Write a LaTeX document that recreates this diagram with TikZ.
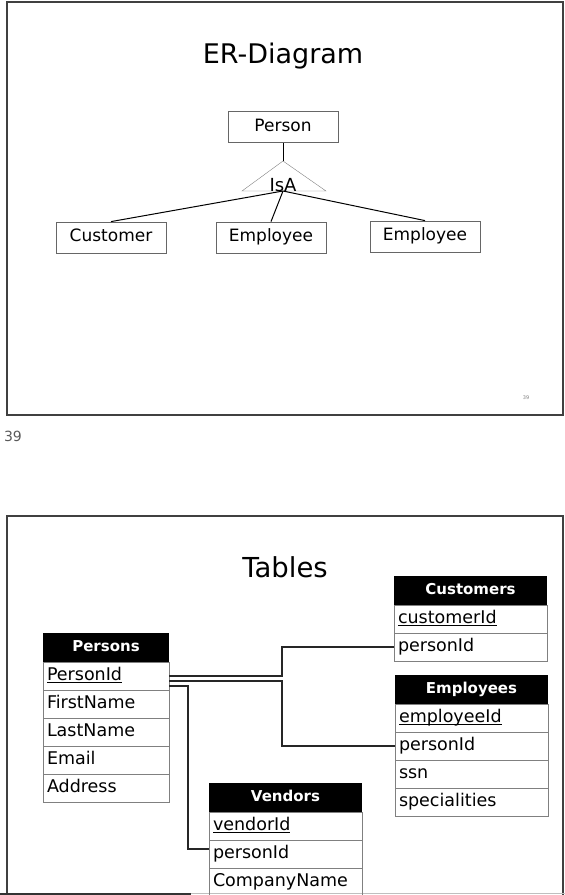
\documentclass[tikz,border=0pt]{standalone}
\usepackage{fontspec}
\setmainfont{DejaVu Sans}
\usetikzlibrary{positioning,calc}

\newcommand{\pkey}[1]{\setbox0=\hbox{#1}\rlap{\rule[-3pt]{\wd0}{1.5pt}}\box0}

\tikzset{
  ebox/.style={draw=gray!80!black, line width=0.8pt, minimum width=110, minimum height=31,
    inner sep=0pt, font=\fontsize{17}{19}\selectfont, text height=12.5pt, text depth=4pt},
  thead/.style={fill=black, text=white, font=\bfseries\fontsize{15}{17}\selectfont,
    minimum height=29, text width=#1, align=center, inner xsep=4, inner ysep=0,
    outer sep=0, text height=11pt, text depth=3pt},
  trow/.style={draw=gray, line width=0.8pt, font=\fontsize{17.5}{19}\selectfont,
    minimum height=28, text width=#1, align=left, inner xsep=4, inner ysep=0,
    outer sep=0, text height=12.5pt, text depth=4pt},
  link/.style={line width=1.2pt, draw=black!85},
  frame/.style={line width=1.5pt, draw=black!75},
}

\begin{document}
\begin{tikzpicture}[x=1pt, y=-1pt]
  \useasboundingbox (0,0) rectangle (565,895);

  % рамки слайдов
  \draw[frame] (7,2) rectangle (563,415);
  \draw[frame] (7,895) |- (563,516) -- (563,895);
  \draw[line width=2pt, black!80] (0,894) -- (191,894);
  \draw[gray!50] (191,893.5) -- (565,893.5);
  \node[gray, font=\fontsize{5}{6}\selectfont] (pgin) at (526,398) {39};
  \node[black!65, font=\fontsize{14}{16}\selectfont] (pgout) at (13,436) {39};

  % ER-диаграмма
  \node[font=\fontsize{27}{30}\selectfont] (ertitle) at (283,56) {ER-Diagram};
  \node[ebox] (person) at (283,127) {Person};
  \coordinate (apex) at (283,161);
  \coordinate (isab) at (283,191);
  \draw[gray] (apex) -- (242,191) -- (326,191) -- cycle;
  \node[font=\fontsize{18}{20}\selectfont, anchor=base, inner sep=0pt] (isa) at (283,191) {IsA};
  \draw[line width=1pt] (person.south) -- (apex);

  \node[ebox] (cust) at (111,237.5) {Customer};
  \node[ebox] (emp1) at (271,237.5) {Employee};
  \node[ebox] (emp2) at (425,236.5) {Employee};
  \draw[line width=1pt] (isab) -- (cust.north);
  \draw[line width=1pt] (isab) -- (emp1.north);
  \draw[line width=1pt] (isab) -- (emp2.north);

  % таблицы
  \node[font=\fontsize{27.5}{30}\selectfont] (tbtitle) at (285,567) {Tables};

  \node[thead=118pt, anchor=north west] (persons) at (43,633) {Persons};
  \node[trow=118pt, below=0pt of persons] (pid) {\pkey{PersonId}};
  \node[trow=118pt, below=0pt of pid] (fname) {FirstName};
  \node[trow=118pt, below=0pt of fname] (lname) {LastName};
  \node[trow=118pt, below=0pt of lname] (email) {Email};
  \node[trow=118pt, below=0pt of email] (addr) {Address};

  \node[thead=145pt, anchor=north west] (customers) at (394,576) {Customers};
  \node[trow=145pt, below=0pt of customers] (cid) {\pkey{customerId}};
  \node[trow=145pt, below=0pt of cid] (cpid) {personId};

  \node[thead=145pt, anchor=north west] (employees) at (395,675) {Employees};
  \node[trow=145pt, below=0pt of employees] (eid) {\pkey{employeeId}};
  \node[trow=145pt, below=0pt of eid] (epid) {personId};
  \node[trow=145pt, below=0pt of epid] (ssn) {ssn};
  \node[trow=145pt, below=0pt of ssn] (spec) {specialities};

  \node[thead=145pt, anchor=north west] (vendors) at (209,783) {Vendors};
  \node[trow=145pt, below=0pt of vendors] (vid) {\pkey{vendorId}};
  \node[trow=145pt, below=0pt of vid] (vpid) {personId};
  \node[trow=145pt, below=0pt of vpid] (cname) {CompanyName};

  % связи
  \draw[link] (pid.east) -- ++(113,0) |- (cpid.west);
  \draw[link] ([yshift=-5pt]pid.east) -- ++(113,0) |- (epid.west);
  \draw[link] ([yshift=-10pt]pid.east) -- ++(19,0) |- ([yshift=5pt]vpid.west);
\end{tikzpicture}
\end{document}
